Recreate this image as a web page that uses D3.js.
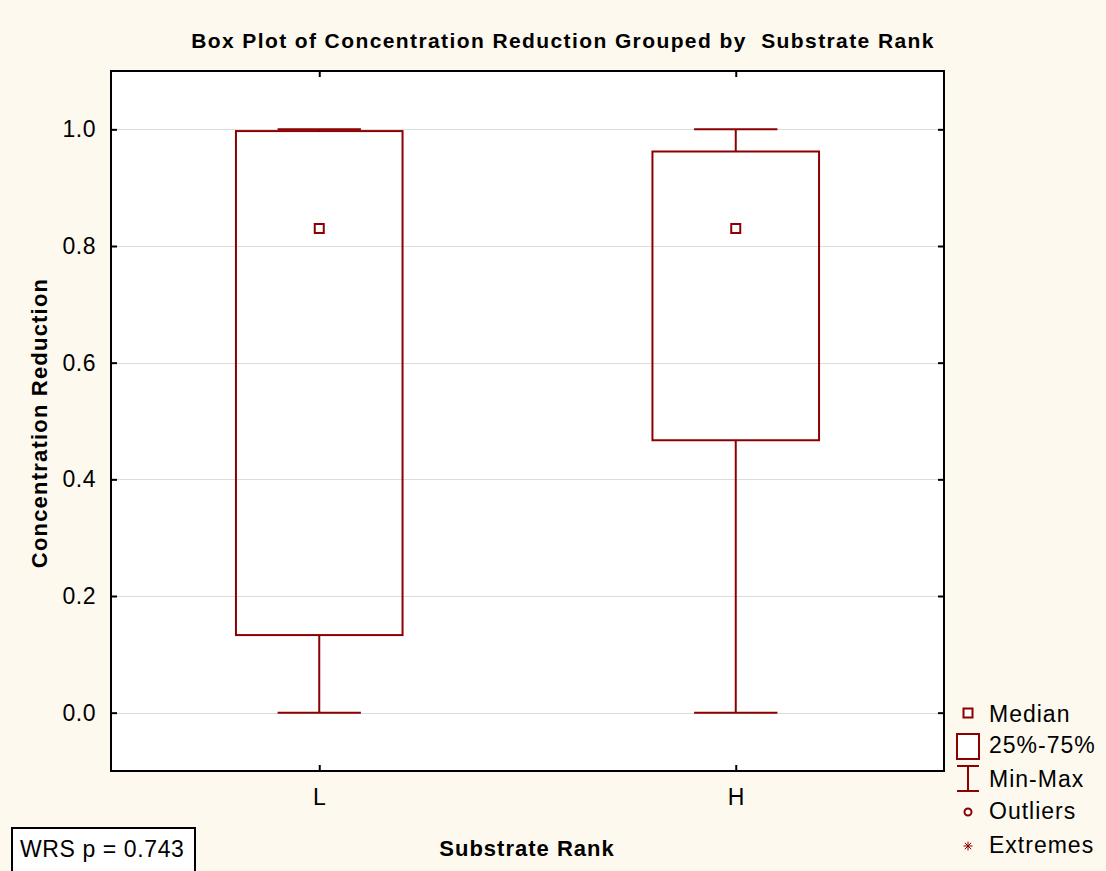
<!DOCTYPE html>
<html><head><meta charset="utf-8">
<script src="https://cdn.jsdelivr.net/npm/d3@7"></script>
<style>
html,body{margin:0;padding:0;background:#fdf9ee;}
svg{display:block;}
text{font-family:"Liberation Sans",Arial,sans-serif;}
</style></head>
<body>
<script>
const categories = ["L", "H"];
const mins    = [0.0, 0.0];
const q1s     = [0.133, 0.467];
const medians = [0.83, 0.83];
const q3s     = [0.997, 0.962];
const maxs    = [1.0, 1.0];
const yTicks  = [0.0, 0.2, 0.4, 0.6, 0.8, 1.0];
const legendLabels = ["Median", "25%-75%", "Min-Max", "Outliers", "Extremes"];
const titleText = "Box Plot of Concentration Reduction Grouped by  Substrate Rank";
const xLabel = "Substrate Rank";
const yLabel = "Concentration Reduction";
const noteText = "WRS p = 0.743";

const W = 1106, H = 871;
const m = {left:111, right:944, top:71, bottom:771};
const red = "#8b0000";
const ff = '"Liberation Sans",Arial,sans-serif';

const svg = d3.select("body").append("svg").attr("width", W).attr("height", H);
svg.append("rect").attr("width", W).attr("height", H).attr("fill", "#fdf9ee");

const x = d3.scalePoint().domain(categories).range([m.left, m.right]).padding(0.5);
const y = d3.scaleLinear().domain([-0.1, 1.1]).range([m.bottom, m.top]);
const pw = m.right - m.left;

svg.append("rect").attr("x", m.left).attr("y", m.top).attr("width", pw).attr("height", m.bottom - m.top).attr("fill", "#fff");

// gridlines
svg.append("g").selectAll("line").data(yTicks).join("line")
  .attr("x1", m.left).attr("x2", m.right)
  .attr("y1", d => Math.round(y(d)) + 0.5).attr("y2", d => Math.round(y(d)) + 0.5)
  .attr("stroke", "#dcdcdc").attr("stroke-width", 1);

// boxes
const data = categories.map((c, i) => ({c, min:mins[i], q1:q1s[i], med:medians[i], q3:q3s[i], max:maxs[i]}));
const boxW = pw * 0.2, capW = pw * 0.1;
const g = svg.append("g").attr("stroke", red).attr("stroke-width", 2).attr("fill", "none");
data.forEach(d => {
  const cx = x(d.c);
  g.append("line").attr("x1", cx).attr("x2", cx).attr("y1", y(d.max)).attr("y2", y(d.q3));
  g.append("line").attr("x1", cx).attr("x2", cx).attr("y1", y(d.q1)).attr("y2", y(d.min));
  g.append("line").attr("x1", cx - capW/2).attr("x2", cx + capW/2).attr("y1", y(d.max)).attr("y2", y(d.max));
  g.append("line").attr("x1", cx - capW/2).attr("x2", cx + capW/2).attr("y1", y(d.min)).attr("y2", y(d.min));
  g.append("rect").attr("x", cx - boxW/2).attr("y", y(d.q3)).attr("width", boxW).attr("height", y(d.q1) - y(d.q3));
  g.append("rect").attr("x", cx - 4.5).attr("y", y(d.med) - 4.5).attr("width", 9).attr("height", 9).attr("fill", "#fff");
});

// frame
svg.append("rect").attr("x", m.left).attr("y", m.top).attr("width", pw).attr("height", m.bottom - m.top)
  .attr("fill", "none").attr("stroke", "#000").attr("stroke-width", 2);

// axes
const yl = svg.append("g").attr("transform", `translate(${m.left},0)`).call(d3.axisLeft(y).tickValues(yTicks).tickFormat(d3.format(".1f")).tickSizeInner(-6).tickSizeOuter(0).tickPadding(15));
const yr = svg.append("g").attr("transform", `translate(${m.right},0)`).call(d3.axisRight(y).tickValues(yTicks).tickFormat("").tickSizeInner(-6).tickSizeOuter(0));
const xb = svg.append("g").attr("transform", `translate(0,${m.bottom})`).call(d3.axisBottom(x).tickSizeInner(-6).tickSizeOuter(0).tickPadding(18));
const xt = svg.append("g").attr("transform", `translate(0,${m.top})`).call(d3.axisTop(x).tickFormat("").tickSizeInner(-6).tickSizeOuter(0));
[yl, yr, xb, xt].forEach(a => {
  a.attr("font-size", null).attr("font-family", null);
  a.select(".domain").remove();
  a.selectAll(".tick line").attr("stroke", "#000").attr("stroke-width", 2);
  a.selectAll("text").style("font-size", "23px").attr("fill", "#000").style("font-family", ff).style("letter-spacing", "0.5px");
});

// titles
svg.append("text").attr("x", 563).attr("y", 48).attr("text-anchor", "middle")
  .style("font-size", "21px").attr("font-weight", "bold").style("letter-spacing", "1.4px").style("white-space", "pre").text(titleText);
svg.append("text").attr("x", 527).attr("y", 856).attr("text-anchor", "middle")
  .style("font-size", "22px").attr("font-weight", "bold").style("letter-spacing", "1px").text(xLabel);
svg.append("text").attr("transform", `translate(47,423) rotate(-90)`).attr("text-anchor", "middle")
  .style("font-size", "22px").attr("font-weight", "bold").style("letter-spacing", "1.2px").text(yLabel);

// note box
svg.append("rect").attr("x", 12).attr("y", 828).attr("width", 183).attr("height", 50).attr("fill", "#fff").attr("stroke", "#000").attr("stroke-width", 2);
svg.append("text").attr("x", 20).attr("y", 857).style("font-size", "23px").style("letter-spacing", "0.6px").text(noteText);

// legend
const lg = svg.append("g");
const lBase = [722, 753, 787, 819, 853];
legendLabels.forEach((t, i) => {
  lg.append("text").attr("x", 989).attr("y", lBase[i]).style("font-size", "23px").style("letter-spacing", "1px").attr("fill", "#000").text(t);
});
const lx = 968;
lg.append("rect").attr("x", lx - 4.5).attr("y", 713 - 4.5).attr("width", 9).attr("height", 9).attr("fill", "#fff").attr("stroke", red).attr("stroke-width", 2);
lg.append("rect").attr("x", lx - 11).attr("y", 734).attr("width", 22).attr("height", 25).attr("fill", "#fff").attr("stroke", red).attr("stroke-width", 2);
lg.append("line").attr("x1", lx - 11).attr("x2", lx + 11).attr("y1", 766).attr("y2", 766).attr("stroke", red).attr("stroke-width", 2);
lg.append("line").attr("x1", lx - 11).attr("x2", lx + 11).attr("y1", 791).attr("y2", 791).attr("stroke", red).attr("stroke-width", 2);
lg.append("line").attr("x1", lx).attr("x2", lx).attr("y1", 766).attr("y2", 791).attr("stroke", red).attr("stroke-width", 2);
lg.append("circle").attr("cx", lx).attr("cy", 812).attr("r", 3.5).attr("fill", "#fff").attr("stroke", red).attr("stroke-width", 2);
const ex = lg.append("g").attr("stroke", red).attr("stroke-width", 1);
[[0,-4.5,0,4.5],[-4.5,0,4.5,0],[-3.2,-3.2,3.2,3.2],[-3.2,3.2,3.2,-3.2]].forEach(s => {
  ex.append("line").attr("x1", lx + s[0]).attr("y1", 846 + s[1]).attr("x2", lx + s[2]).attr("y2", 846 + s[3]);
});
</script>
</body></html>
